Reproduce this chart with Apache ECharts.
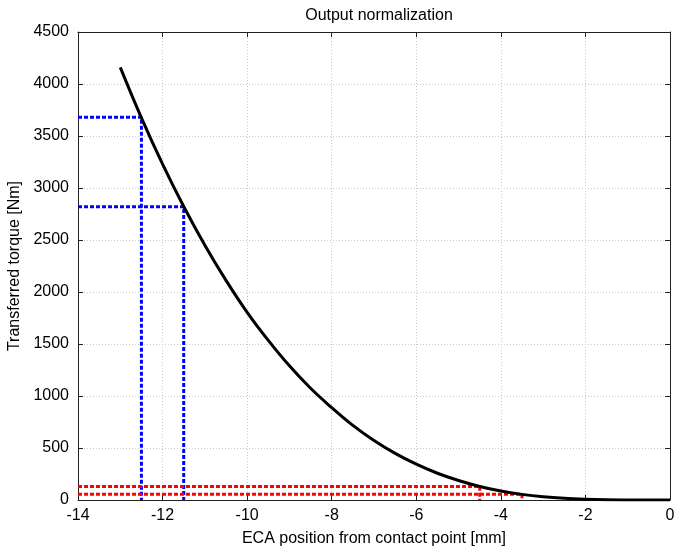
<!DOCTYPE html>
<html>
<head>
<meta charset="utf-8">
<script src="https://cdn.jsdelivr.net/npm/echarts@6/dist/echarts.min.js"></script>
<style>
html,body{margin:0;padding:0;background:#fff;}
#chart{width:677px;height:550px;}
</style>
</head>
<body>
<div id="chart"></div>
<script>
// Curve data
const curveX = [-13, -12.5, -12, -11.5, -11, -10.5, -10, -9.5, -9, -8.5, -8, -7.5, -7, -6.5, -6, -5.5, -5, -4.5, -4, -3.5, -3, -2.5, -2, -1.5, -1, -0.5, 0];
const curveY = [4160, 3675, 3230, 2822, 2450, 2112, 1805, 1535, 1290, 1074, 888, 717, 572, 448, 344, 257, 187, 130, 86, 54, 31, 16, 7, 2, 0.5, 0, 0];

// Guide lines: [xPos, torque]
const blueMarks = [[-12.5, 3680], [-11.5, 2820]];
const redMarks = [[-4.5, 130], [-3.5, 55]];

const xTicks = [-14, -12, -10, -8, -6, -4, -2, 0];
const yTicks = [0, 500, 1000, 1500, 2000, 2500, 3000, 3500, 4000, 4500];

const FONT = 'Liberation Sans, Arial, sans-serif';

function guide(mark, color) {
  return {
    type: 'line',
    data: [[-14, mark[1]], [mark[0], mark[1]], [mark[0], 0]],
    showSymbol: false,
    symbol: 'none',
    lineStyle: { color: color, width: 3, type: [4, 2], cap: 'butt' },
    z: 3,
    silent: true,
    animation: false
  };
}

const chart = echarts.init(document.getElementById('chart'), null, { renderer: 'canvas' });
const axisCommon = {
  type: 'value',
  axisLine: { show: true, onZero: false, lineStyle: { color: '#222', width: 1 } },
  axisTick: { show: true, inside: true, length: 5, lineStyle: { color: '#222' } }
};
const plain = v => String(v);
chart.setOption({
  animation: false,
  backgroundColor: '#fff',
  title: {
    text: 'Output normalization',
    left: 374, top: 3, textAlign: 'center',
    textStyle: { fontFamily: FONT, fontSize: 16, fontWeight: 'normal', color: '#000' }
  },
  grid: { left: 78, right: 7, top: 32, bottom: 50, containLabel: false, outerBoundsMode: 'none' },
  xAxis: [
    Object.assign({}, axisCommon, {
      min: xTicks[0], max: xTicks[xTicks.length - 1], interval: 2,
      position: 'bottom',
      name: 'ECA position from contact point [mm]',
      nameLocation: 'middle', nameGap: 31,
      nameTextStyle: { fontFamily: FONT, fontSize: 16, color: '#000' },
      axisLabel: { fontFamily: FONT, fontSize: 16, color: '#000', margin: 8, formatter: plain },
      splitLine: { show: true, lineStyle: { color: '#c8c8c8', type: [1, 2], width: 1 } }
    }),
    Object.assign({}, axisCommon, {
      min: xTicks[0], max: xTicks[xTicks.length - 1], interval: 2,
      position: 'top',
      axisLabel: { show: false },
      splitLine: { show: false }
    })
  ],
  yAxis: [
    Object.assign({}, axisCommon, {
      min: yTicks[0], max: yTicks[yTicks.length - 1], interval: 500,
      position: 'left',
      name: 'Transferred torque [Nm]',
      nameLocation: 'middle', nameGap: 55,
      nameTextStyle: { fontFamily: FONT, fontSize: 16, color: '#000' },
      axisLabel: { fontFamily: FONT, fontSize: 16, color: '#000', margin: 9, formatter: plain },
      splitLine: { show: true, lineStyle: { color: '#c8c8c8', type: [1, 2], width: 1 } }
    }),
    Object.assign({}, axisCommon, {
      min: yTicks[0], max: yTicks[yTicks.length - 1], interval: 500,
      position: 'right',
      axisLabel: { show: false },
      splitLine: { show: false }
    })
  ],
  series: [
    guide(blueMarks[0], '#0000ff'),
    guide(blueMarks[1], '#0000ff'),
    guide(redMarks[0], '#ff0000'),
    guide(redMarks[1], '#ff0000'),
    {
      type: 'line',
      data: curveX.map((x, i) => [x, curveY[i]]),
      smooth: 0.4,
      showSymbol: false,
      symbol: 'none',
      lineStyle: { color: '#000', width: 3 },
      z: 5,
      silent: true
    }
  ]
});
</script>
</body>
</html>
